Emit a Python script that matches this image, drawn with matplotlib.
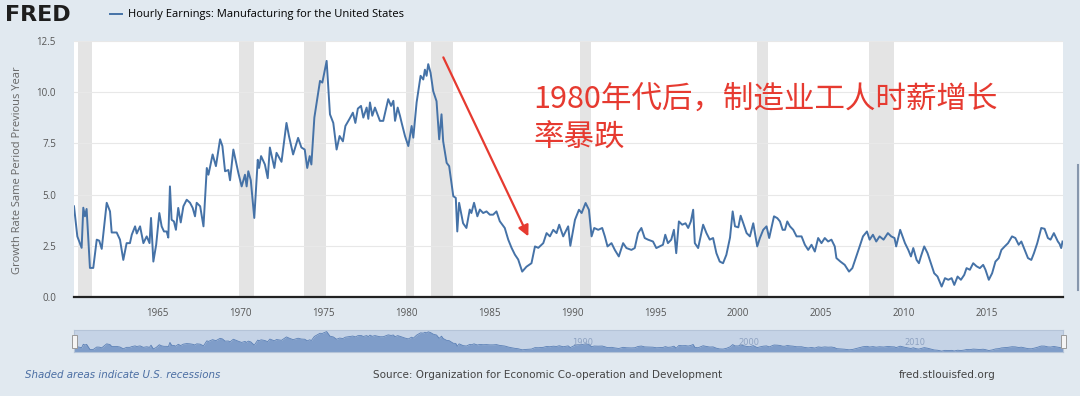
import numpy as np
import matplotlib

matplotlib.use('Agg')
import matplotlib.pyplot as plt
from matplotlib.patches import Rectangle
from matplotlib.lines import Line2D

series_name = 'Hourly Earnings: Manufacturing for the United States'
y_label = 'Growth Rate Same Period Previous Year'
note_text = '1980年代后，制造业工人时薪增长\n率暴跌'

# (year, % growth vs same period previous year)
years = [
    1960.00, 1960.20, 1960.46, 1960.56, 1960.66, 1960.76, 1960.96, 1961.16, 1961.37, 1961.52,
    1961.67, 1961.97, 1962.17, 1962.27, 1962.57, 1962.77, 1962.97, 1963.17, 1963.37, 1963.48,
    1963.68, 1963.78, 1963.98, 1964.18, 1964.38, 1964.55, 1964.64, 1964.78, 1964.95, 1965.14,
    1965.28, 1965.42, 1965.58, 1965.68, 1965.78, 1965.88, 1966.02, 1966.14, 1966.28, 1966.43,
    1966.59, 1966.79, 1966.99, 1967.15, 1967.29, 1967.39, 1967.60, 1967.80, 1968.00, 1968.10,
    1968.35, 1968.55, 1968.80, 1968.94, 1969.10, 1969.30, 1969.40, 1969.60, 1969.90, 1970.10,
    1970.30, 1970.40, 1970.50, 1970.65, 1970.86, 1971.07, 1971.15, 1971.27, 1971.50, 1971.67,
    1971.80, 1972.07, 1972.20, 1972.50, 1972.80, 1972.95, 1973.20, 1973.50, 1973.70, 1973.90,
    1974.05, 1974.20, 1974.30, 1974.48, 1974.60, 1974.82, 1974.96, 1975.22, 1975.42, 1975.62,
    1975.82, 1976.00, 1976.20, 1976.35, 1976.60, 1976.80, 1976.95, 1977.10, 1977.29, 1977.43,
    1977.63, 1977.73, 1977.83, 1977.97, 1978.13, 1978.43, 1978.63, 1978.93, 1979.10, 1979.24,
    1979.34, 1979.50, 1979.64, 1979.74, 1979.94, 1980.14, 1980.34, 1980.44, 1980.64, 1980.88,
    1981.04, 1981.14, 1981.24, 1981.34, 1981.48, 1981.64, 1981.84, 1982.00, 1982.14, 1982.24,
    1982.45, 1982.60, 1982.85, 1983.00, 1983.09, 1983.20, 1983.44, 1983.64, 1983.84, 1983.94,
    1984.10, 1984.30, 1984.45, 1984.65, 1984.85, 1985.05, 1985.25, 1985.45, 1985.65, 1985.95,
    1986.16, 1986.36, 1986.56, 1986.76, 1987.00, 1987.26, 1987.56, 1987.77, 1987.97, 1988.27,
    1988.47, 1988.67, 1988.87, 1989.07, 1989.23, 1989.47, 1989.77, 1989.90, 1990.18, 1990.42,
    1990.58, 1990.82, 1991.02, 1991.18, 1991.34, 1991.58, 1991.82, 1991.98, 1992.14, 1992.38,
    1992.58, 1992.82, 1993.08, 1993.28, 1993.58, 1993.78, 1993.98, 1994.18, 1994.38, 1994.58,
    1994.88, 1995.08, 1995.28, 1995.48, 1995.62, 1995.78, 1995.98, 1996.14, 1996.28, 1996.44,
    1996.64, 1996.84, 1997.00, 1997.16, 1997.30, 1997.40, 1997.60, 1997.90, 1998.10, 1998.30,
    1998.50, 1998.70, 1998.90, 1999.10, 1999.30, 1999.52, 1999.68, 1999.82, 2000.02, 2000.16,
    2000.32, 2000.52, 2000.72, 2000.92, 2001.16, 2001.32, 2001.52, 2001.72, 2001.88, 2002.17,
    2002.37, 2002.53, 2002.69, 2002.83, 2002.97, 2003.13, 2003.33, 2003.53, 2003.83, 2004.03,
    2004.23, 2004.43, 2004.63, 2004.83, 2005.03, 2005.23, 2005.43, 2005.63, 2005.83, 2005.93,
    2006.17, 2006.43, 2006.69, 2006.89, 2007.13, 2007.33, 2007.53, 2007.77, 2007.93, 2008.13,
    2008.33, 2008.53, 2008.77, 2009.03, 2009.23, 2009.43, 2009.53, 2009.77, 2010.06, 2010.26,
    2010.42, 2010.56, 2010.76, 2010.90, 2011.02, 2011.22, 2011.42, 2011.62, 2011.82, 2012.02,
    2012.27, 2012.47, 2012.67, 2012.87, 2013.03, 2013.23, 2013.43, 2013.63, 2013.77, 2013.97,
    2014.17, 2014.37, 2014.57, 2014.77, 2014.91, 2015.11, 2015.31, 2015.51, 2015.71, 2015.87,
    2016.07, 2016.27, 2016.51, 2016.71, 2016.91, 2017.07, 2017.27, 2017.47, 2017.67, 2017.83,
    2018.03, 2018.27, 2018.47, 2018.67, 2018.83, 2019.03, 2019.27, 2019.37, 2019.47, 2019.55,
]
growth = [
    4.43, 2.96, 2.40, 4.36, 3.94, 4.30, 1.42, 1.42, 2.80, 2.75,
    2.35, 4.60, 4.18, 3.15, 3.15, 2.80, 1.81, 2.63, 2.63, 3.04,
    3.45, 3.10, 3.45, 2.63, 2.96, 2.63, 3.86, 1.73, 2.55, 4.10,
    3.45, 3.20, 3.20, 2.90, 5.40, 3.77, 3.69, 3.28, 4.35, 3.64,
    4.43, 4.75, 4.60, 4.35, 3.94, 4.60, 4.43, 3.45, 6.30, 5.97,
    6.96, 6.39, 7.70, 7.37, 6.14, 6.20, 5.70, 7.20, 6.06, 5.40,
    5.97, 5.40, 6.14, 5.70, 3.86, 6.70, 6.30, 6.88, 6.47, 5.80,
    7.30, 6.30, 7.04, 6.60, 8.50, 7.86, 6.96, 7.77, 7.30, 7.20,
    6.30, 6.88, 6.47, 8.76, 9.40, 10.55, 10.47, 11.53, 8.92, 8.50,
    7.20, 7.86, 7.60, 8.35, 8.70, 9.00, 8.50, 9.20, 9.33, 8.76,
    9.25, 8.70, 9.50, 8.85, 9.25, 8.60, 8.60, 9.66, 9.33, 9.58,
    8.60, 9.25, 8.84, 8.50, 7.86, 7.37, 8.35, 7.78, 9.50, 10.80,
    10.62, 11.10, 10.80, 11.37, 10.95, 10.05, 9.56, 7.70, 8.92, 7.60,
    6.55, 6.39, 4.92, 4.84, 3.20, 4.60, 3.60, 3.37, 4.27, 4.10,
    4.60, 3.94, 4.27, 4.10, 4.18, 4.02, 4.02, 4.18, 3.70, 3.37,
    2.80, 2.40, 2.07, 1.83, 1.24, 1.48, 1.65, 2.47, 2.40, 2.63,
    3.12, 2.96, 3.28, 3.12, 3.53, 2.96, 3.45, 2.50, 3.77, 4.26,
    4.10, 4.59, 4.26, 2.96, 3.37, 3.28, 3.37, 2.96, 2.47, 2.63,
    2.30, 1.98, 2.63, 2.39, 2.30, 2.39, 3.12, 3.37, 2.88, 2.80,
    2.71, 2.39, 2.47, 2.55, 3.04, 2.63, 2.80, 3.28, 2.14, 3.69,
    3.53, 3.60, 3.37, 3.69, 4.26, 2.63, 2.39, 3.53, 3.12, 2.80,
    2.88, 2.14, 1.73, 1.65, 2.06, 2.90, 4.18, 3.45, 3.40, 3.97,
    3.60, 3.12, 2.96, 3.60, 2.47, 2.88, 3.28, 3.45, 2.88, 3.94,
    3.85, 3.69, 3.28, 3.28, 3.69, 3.45, 3.28, 2.96, 2.96, 2.55,
    2.30, 2.55, 2.22, 2.88, 2.63, 2.88, 2.71, 2.80, 2.47, 1.90,
    1.73, 1.57, 1.24, 1.41, 1.98, 2.47, 2.96, 3.20, 2.80, 3.04,
    2.71, 2.96, 2.80, 3.12, 2.96, 2.88, 2.47, 3.28, 2.63, 2.30,
    1.98, 2.39, 1.81, 1.65, 1.98, 2.47, 2.14, 1.65, 1.16, 1.00,
    0.51, 0.92, 0.84, 0.92, 0.59, 1.00, 0.84, 1.08, 1.41, 1.33,
    1.65, 1.50, 1.41, 1.57, 1.33, 0.84, 1.16, 1.73, 1.90, 2.30,
    2.47, 2.63, 2.96, 2.88, 2.55, 2.71, 2.30, 1.90, 1.81, 2.14,
    2.63, 3.37, 3.33, 2.88, 2.80, 3.12, 2.71, 2.60, 2.39, 2.71,
]

recession_starts = [1960.25, 1969.92, 1973.83, 1980.00, 1981.50, 1990.50, 2001.17, 2007.92]
recession_ends = [1961.08, 1970.83, 1975.17, 1980.50, 1982.83, 1991.17, 2001.83, 2009.42]

x_ticks = [1965, 1970, 1975, 1980, 1985, 1990, 1995, 2000, 2005, 2010, 2015]
y_ticks = [0.0, 2.5, 5.0, 7.5, 10.0, 12.5]
nav_labels = [1990, 2000, 2010]

W, H = 1080, 396
BG = '#e1e9f0'
LINE = '#4572a7'
RED = '#e63a30'
x_min, x_max = 1960.0, 2019.58

fig = plt.figure(figsize=(W / 100, H / 100), dpi=100, facecolor=BG)

# main chart
ax = fig.add_axes([74 / W, 1 - 297 / H, 989 / W, 256 / H])
ax.set_facecolor('white')
for s, e in zip(recession_starts, recession_ends):
    ax.axvspan(s, e, color='#e4e4e4', lw=0, zorder=0)
ax.plot(years, growth, color=LINE, lw=1.4, label=series_name, zorder=3)
ax.set_xlim(x_min, x_max)
ax.set_ylim(0, 12.5)
ax.set_xticks(x_ticks)
ax.set_yticks(y_ticks)
ax.set_yticklabels(['%.1f' % v for v in y_ticks])
ax.grid(axis='y', color='#e8e8e8', lw=0.8, zorder=1)
for side in ['top', 'left', 'right']:
    ax.spines[side].set_visible(False)
ax.spines['bottom'].set_color('#222222')
ax.spines['bottom'].set_linewidth(1.6)
ax.tick_params(length=0, labelsize=7, colors='#555555')
ax.tick_params(axis='x', pad=8)
ax.tick_params(axis='y', pad=13)
for lab in ax.get_xticklabels() + ax.get_yticklabels():
    lab.set_fontfamily('Open Sans')

fig.text(18 / W, 1 - 170 / H, y_label, rotation=90, ha='center', va='center',
         fontsize=8, color='#666666', family='Open Sans')

# red annotation
ax.annotate('', xy=(1987.37, 2.96), xytext=(1982.25, 11.7),
            arrowprops=dict(arrowstyle='-|>', color=RED, lw=1.6, mutation_scale=16,
                            shrinkA=0, shrinkB=0), zorder=5)
fig.text(533 / W, 1 - 85 / H, note_text, ha='left', va='top', fontsize=22,
         color=RED, linespacing=1.3, family=['Noto Sans CJK SC', 'DejaVu Sans'])

# header
fig.text(5 / W, 1 - 15 / H, 'FRED', fontsize=16, weight='heavy', color='#1e1e1e',
         va='center', ha='left', family='DejaVu Sans')
fig.legend(loc='center left', bbox_to_anchor=(110 / W, 1 - 15 / H), frameon=False,
           handlelength=1.1, handletextpad=0.5, borderaxespad=0,
           borderpad=0, prop={'family': 'Open Sans', 'size': 8})

# navigator strip
nav = fig.add_axes([74 / W, 1 - 352 / H, 989 / W, 22 / H])
nav.set_facecolor('#c5d3e6')
nav.fill_between(years, growth, 0, color='#7f9dc9', lw=0)
nav.plot(years, growth, color='#5b80b6', lw=0.6)
nav.set_xlim(x_min, x_max)
nav.set_ylim(0, 12.4)
nav.set_xticks([])
nav.set_yticks([])
for sp in nav.spines.values():
    sp.set_color('#b5c4d8')
    sp.set_linewidth(0.8)
for yr in nav_labels:
    nav.text(yr, 3.0, str(yr), fontsize=6, color='#8fa3c2', ha='left', va='bottom')
for hx in [72, 1061]:
    fig.add_artist(Rectangle((hx / W, 1 - 348 / H), 5 / W, 13 / H, transform=fig.transFigure,
                             facecolor='#f4f4f4', edgecolor='#999999', lw=0.7))

# side scroll bar
fig.add_artist(Line2D([1078 / W, 1078 / W], [1 - 165 / H, 1 - 290 / H], transform=fig.transFigure,
                      color='#8797ad', lw=1.5))

# footer
fig.text(25 / W, 1 - 375 / H, 'Shaded areas indicate U.S. recessions', fontsize=7.4,
         style='italic', color='#4b6ea3', va='center', ha='left')
fig.text(548 / W, 1 - 375 / H, 'Source: Organization for Economic Co-operation and Development',
         fontsize=7.5, color='#444444', va='center', ha='center')
fig.text(947 / W, 1 - 375 / H, 'fred.stlouisfed.org', fontsize=7.6, color='#444444',
         va='center', ha='center')

fig.savefig('out.png', dpi=100, facecolor=BG)
